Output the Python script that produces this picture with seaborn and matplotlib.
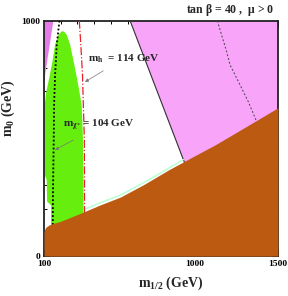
import numpy as np
import matplotlib
matplotlib.use('Agg')
import matplotlib.pyplot as plt
from matplotlib.ticker import MultipleLocator
import seaborn as sns

# bordas das regioes (m_1/2, m_0) em GeV
brown_x = [100, 103, 110, 130, 160, 196, 250, 339, 435, 555, 700, 850, 1033, 1123, 1300, 1500]
brown_y = [100, 112, 122, 132, 140, 147, 162, 188, 217, 250, 305, 368, 438, 472, 546, 630]

strip_x = [340, 435, 555, 700, 850, 935]
strip_y = [198, 226, 258, 313, 375, 410]

green_x = [142, 142, 118, 116, 104, 103, 112, 120, 132, 152, 166, 186, 206,
           220, 236, 256, 275, 299, 325, 333, 336, 336]
green_y = [100, 215, 232, 323, 345, 640, 690, 720, 760, 834, 898, 940, 955,
           954, 940, 898, 834, 749, 643, 500, 300, 100]

pink_left_x = [100, 156, 100]
pink_left_y = [1000, 1000, 742]

pink_right_x = [615, 1500, 1500, 950]
pink_right_y = [1000, 1000, 380, 380]

gm2_line_x = [615, 950]
gm2_line_y = [1000, 380]

dash_x = [1137, 1193, 1213, 1263, 1322, 1368, 1380]
dash_y = [1000, 869, 813, 742, 657, 579, 560]

mh_x = [311, 320, 330, 335, 341, 342, 342]
mh_y = [1000, 898, 770, 643, 500, 300, 150]

chi_x = [192, 176, 166, 160, 158, 156, 153, 152]
chi_y = [1000, 898, 770, 643, 500, 400, 250, 120]

sns.set_theme(style='ticks')
plt.rcParams['font.family'] = ['Liberation Serif', 'DejaVu Serif']
plt.rcParams['font.weight'] = 'bold'
plt.rcParams['mathtext.fontset'] = 'custom'
plt.rcParams['mathtext.rm'] = 'Liberation Serif:bold'
plt.rcParams['mathtext.it'] = 'Liberation Serif:bold'
plt.rcParams['mathtext.bf'] = 'Liberation Serif:bold'

fig = plt.figure(figsize=(2.88, 2.96), dpi=100)
ax = fig.add_axes([0.153, 0.135, 0.812, 0.795])

ax.fill(pink_left_x, pink_left_y, color='#e47ce8', lw=0, zorder=1)
ax.fill(pink_right_x, pink_right_y, color='#f8a4f8', lw=0, zorder=1)
ax.fill(green_x, green_y, color='#66ee0e', lw=0, zorder=2)
sns.lineplot(x=gm2_line_x, y=gm2_line_y, sort=False, estimator=None, color='#333333', lw=0.8, ax=ax, zorder=3)
sns.lineplot(x=dash_x, y=dash_y, sort=False, estimator=None, color='#444444', lw=0.7,
             linestyle=(0, (2, 2)), ax=ax, zorder=3)
sns.lineplot(x=strip_x, y=strip_y, sort=False, estimator=None, color='#b0ffd0', lw=1.0, ax=ax, zorder=3)
sns.lineplot(x=mh_x, y=mh_y, sort=False, estimator=None, color='#e8202a', lw=0.9,
             linestyle='-.', ax=ax, zorder=4)
sns.lineplot(x=chi_x, y=chi_y, sort=False, estimator=None, color='black', lw=1.3,
             linestyle=(0, (1, 1.2)), ax=ax, zorder=4)
ax.fill_between(brown_x, 0, brown_y, color='#bc5a12', lw=0, zorder=5)

ax.annotate('$m_h$  = 114 GeV', xy=(345, 740), xytext=(363, 840), fontsize=8,
            fontweight='bold', va='center', zorder=6,
            arrowprops=dict(arrowstyle='-|>', color='#777777', lw=0.5, mutation_scale=5,
                            shrinkA=4, shrinkB=0))
ax.annotate(r'$m_{\chi^{\pm}}$ = 104 GeV', xy=(166, 451), xytext=(216, 553), fontsize=8,
            fontweight='bold', va='center', zorder=6,
            arrowprops=dict(arrowstyle='-|>', color='#777777', lw=0.5, mutation_scale=5,
                            shrinkA=5, shrinkB=0))

ax.text(0.985, 1.045, r'tan $\beta$ = 40 ,  $\mu$ > 0', transform=ax.transAxes,
        ha='right', va='center', fontsize=8.5, fontweight='bold')

ax.set_xlim(100, 1500)
ax.set_ylim(0, 1000)
ax.set_xticks([100, 1000, 1500])
ax.set_yticks([0, 1000])
ax.xaxis.set_minor_locator(MultipleLocator(100))
ax.yaxis.set_minor_locator(MultipleLocator(100))
ax.tick_params(which='both', direction='in', top=True, right=True, labelsize=6.8,
               colors='black', width=0.7)
ax.tick_params(which='major', length=4, pad=3)
ax.tick_params(which='minor', length=2.5)
for lab in ax.get_xticklabels() + ax.get_yticklabels():
    lab.set_fontweight('bold')
for s in ax.spines.values():
    s.set_linewidth(1.3)
    s.set_color('#222222')

ax.set_xlabel('$m_{1/2}$ (GeV)', fontsize=10, fontweight='bold')
ax.xaxis.set_label_coords(0.54, -0.08)
ax.set_ylabel('$m_0$ (GeV)', fontsize=10, fontweight='bold')
ax.yaxis.set_label_coords(-0.115, 0.63)

fig.savefig('out.png', dpi=100)
